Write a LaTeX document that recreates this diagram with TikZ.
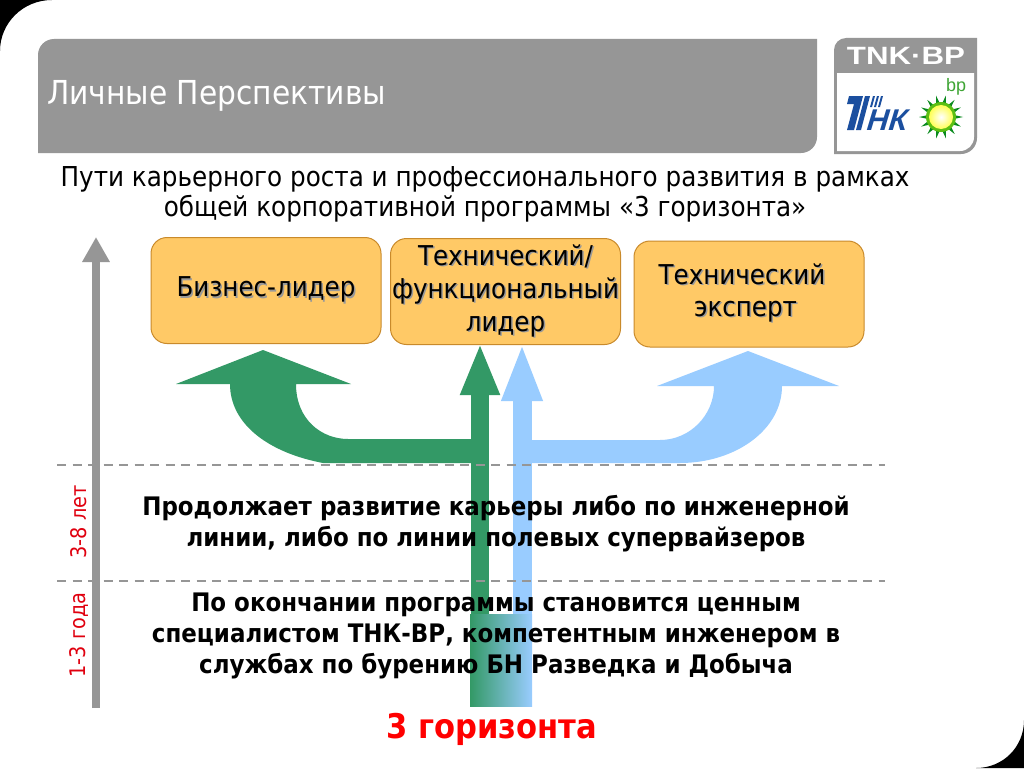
\documentclass[tikz,border=0pt]{standalone}
\usepackage{fontspec}
\setmainfont{DejaVu Sans}[FakeStretch=0.9]
\newfontfamily\logofont{Liberation Sans}
\newfontfamily\brandfont{Liberation Sans}[FakeStretch=1.25]
\usetikzlibrary{arrows.meta}
\definecolor{barGray}{HTML}{969696}
\definecolor{pathGreen}{HTML}{339966}
\definecolor{pathBlue}{HTML}{99CCFF}
\definecolor{boxFill}{HTML}{FFC966}
\definecolor{boxEdge}{HTML}{C98A2B}
\definecolor{labelRed}{HTML}{E0000F}
\definecolor{logoBlue}{HTML}{1B4F9F}
\definecolor{heliosDark}{HTML}{0A8A1E}
\definecolor{heliosLight}{HTML}{5CBF14}
\definecolor{bpGreen}{HTML}{3FA535}
\newcommand{\castshadow}[1]{\rlap{\kern1.5pt\raisebox{-1.5pt}{\textcolor{black!40}{#1}}}#1}
\begin{document}
\begin{tikzpicture}[
  x=1pt, y=-1pt,
  box/.style={draw=boxEdge, line width=1pt, fill=boxFill, rounded corners=16pt, minimum width=230pt, minimum height=106pt, inner sep=0pt, align=center, font=\fontsize{27.3}{33}\selectfont},
  body/.style={align=center, font=\fontsize{25.5}{31}\selectfont\bfseries},
  side/.style={rotate=90, text=labelRed, font=\fontsize{21.5}{24}\selectfont},
  level/.style={draw=barGray, dashed, line width=2pt, dash pattern=on 9pt off 6.5pt},
  greenarrow/.style={draw=pathGreen, line width=18pt, shorten >=-2pt, -{Triangle[width=36pt,length=52pt]}},
  bluearrow/.style={draw=pathBlue, line width=19pt, shorten >=-2pt, -{Triangle[width=37pt,length=58pt]}},
  axisarrow/.style={draw=barGray, line width=8pt, -{Triangle[width=26pt,length=25pt]}}
]
\useasboundingbox (0,0) rectangle (1024,768);
\fill[white] (0,0) rectangle (1024,768);
\fill[black] (0,0) -- (52,0) .. controls (23,0) and (0,23) .. (0,51) -- cycle;
\fill[black] (1024,768) -- (976,768) .. controls (1003,768) and (1024,747) .. (1024,720) -- cycle;

\fill[barGray] (38,153) [rounded corners=16pt] -- (38,39) [sharp corners] -- (817,39) [rounded corners=16pt] -- (817,153) [sharp corners] -- cycle;
\node[anchor=west, text=white, inner sep=0pt, font=\fontsize{33}{38}\selectfont] (title) at (47,96) {Личные Перспективы};

\fill[barGray] (834,154) [rounded corners=12pt] -- (834,38) [sharp corners] -- (977,38) [rounded corners=16pt] -- (977,154) [sharp corners] -- cycle;
\fill[white] (837,151) -- (837,73) -- (974,73) [rounded corners=14pt] -- (974,151) [sharp corners] -- cycle;
\node[text=white, inner sep=0pt, font=\brandfont\fontsize{25}{25}\selectfont\bfseries] (brand) at (906,56) {TNK·BP};
\fill[logoBlue] (849,96) -- (863,96) -- (854,130) -- (847,130) -- (854,104) -- (847,104) -- cycle;
\fill[logoBlue] (865,96) -- (870,96) -- (861,130) -- (856,130) -- cycle;
\foreach \s in {0,4,8} {
  \fill[logoBlue] (873+\s,96) -- (875+\s,96) -- (872+\s,107) -- (870+\s,107) -- cycle;
}
\node[text=logoBlue, inner sep=0pt, xslant=.3, font=\logofont\fontsize{30}{30}\selectfont\bfseries] (tnk) at (888,120) {НК};
\node[text=bpGreen, inner sep=0pt, font=\logofont\fontsize{18}{18}\selectfont] (bp) at (956,87) {bp};
\begin{scope}[shift={(941,117)}]
\foreach \a in {0,25.7,...,340} {
  \fill[heliosDark] (\a-13:11) -- (\a:22) -- (\a+13:11) -- cycle;
}
\fill[heliosLight] (0,0) circle (15);
\clip (0,0) circle (12);
\shade[inner color=white, outer color=yellow] (0,0) circle (18);
\end{scope}

\node[inner sep=0pt, align=center, font=\fontsize{27.4}{30}\selectfont] (subtitle) at (485,194) {Пути карьерного роста и профессионального развития в рамках\\общей корпоративной программы «3 горизонта»};

\coordinate (greenfoot) at (480,620);
\coordinate (bluefoot) at (522,620);
\node[box] (business) at (266,290.5) {\raisebox{-4pt}{\castshadow{Бизнес-лидер}}};
\node[box] (functional) at (505.5,291.5) {\castshadow{Технический/}\\\castshadow{функциональный}\\\castshadow{лидер}};
\node[box] (expert) at (749,294) {};
\node[inner sep=0pt, align=center, font=\fontsize{27.3}{32}\selectfont] (experttext) at (742,293.5) {\castshadow{Технический}\\\hspace*{7pt}\castshadow{эксперт}};

\fill[pathGreen] (263,350) -- (351,384) -- (296,384) .. controls (296,420) and (322,439) .. (348,439) -- (480,439) -- (480,463) -- (323,463) .. controls (270,453) and (230,425) .. (230,384) -- (176,384) -- cycle;
\fill[pathBlue] (748,351) -- (839,386) -- (782,386) .. controls (782,430) and (735,463) .. (680,463) -- (522,463) -- (522,440) -- (660,440) .. controls (690,440) and (714,415) .. (714,386) -- (657,386) -- cycle;

\draw[bluearrow] (bluefoot) -- (bluefoot |- functional.south);
\draw[greenarrow] (greenfoot) -- (greenfoot |- functional.south);
\shade[left color=pathGreen, right color=pathBlue] (470,614) rectangle (532,706);

\coordinate (axisfoot) at (96,708);
\coordinate (axistop) at (96,237);
\draw[axisarrow] (axisfoot) -- (axistop);

\coordinate (upperleft) at (57,465);
\coordinate (upperright) at (885,465);
\coordinate (lowerleft) at (57,581);
\coordinate (lowerright) at (885,581);
\draw[level] (upperleft) -- (upperright);
\draw[level] (lowerleft) -- (lowerright);

\node[side] (longterm) at (79,522) {3-8 лет};
\node[side] (shortterm) at (79,635) {1-3 года};
\node[body] (career) at (496,524) {Продолжает развитие карьеры либо по инженерной\\линии, либо по линии полевых супервайзеров};
\node[body] (graduate) at (496,636) {По окончании программы становится ценным\\специалистом ТНК-ВР, компетентным инженером в\\службах по бурению БН Разведка и Добыча};
\node[text=red, font=\fontsize{34}{38}\selectfont\bfseries] (horizons) at (492,729) {3 горизонта};
\end{tikzpicture}
\end{document}
